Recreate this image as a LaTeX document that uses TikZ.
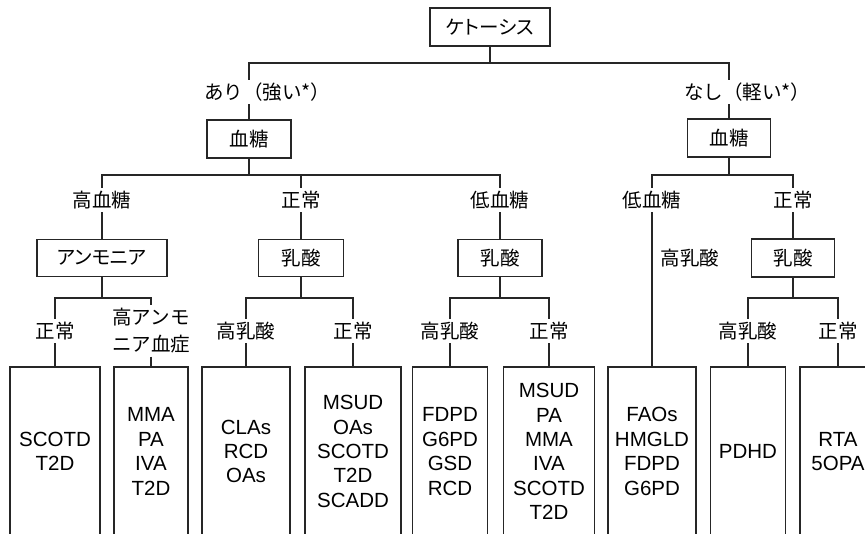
\documentclass[tikz,border=0pt]{standalone}
\usepackage{fontspec}
\setmainfont{Liberation Sans}
\newfontfamily\jpfont{Noto Sans CJK JP}
\newfontfamily\jpboxfont[RawFeature=+palt]{Noto Sans CJK JP}

\begin{document}
\begin{tikzpicture}[x=1pt,y=-1pt]
\tikzset{
  jpbox/.style={draw=black!85,line width=1.3pt,inner sep=0pt,font=\jpboxfont\fontsize{19.5}{23}\selectfont},
  leafbox/.style={draw=black!85,line width=1.3pt,inner sep=0pt,minimum height=169pt,align=center,font=\fontsize{20.5}{24.4}\selectfont},
  cond/.style={inner sep=3pt,align=center,font=\jpfont\fontsize{19.5}{27}\selectfont},
  link/.style={draw=black!85,line width=1.3pt}
}
\useasboundingbox (0,0) rectangle (865,533);
\clip (0,0) rectangle (865,533);
% top
\node[jpbox,minimum width=120pt,minimum height=38pt] (n_root) at (490,27) {ケトーシス};
\node[cond,anchor=west] (n_yes) at (201,92) {あり（強い*）};
\node[cond,anchor=west] (n_no) at (681,92) {なし（軽い*）};
\node[jpbox,minimum width=84pt,minimum height=38pt] (n_bs1) at (249,139) {血糖};
\node[jpbox,minimum width=83pt,minimum height=38pt] (n_bs2) at (729,138) {血糖};
% second level
\node[cond] (n_hyper) at (102,200) {高血糖};
\node[cond] (n_norm1) at (301,200) {正常};
\node[cond] (n_hypo1) at (500,200) {低血糖};
\node[cond] (n_hypo2) at (652,200) {低血糖};
\node[cond] (n_norm2) at (793,200) {正常};
\node[jpbox,minimum width=130pt,minimum height=37pt] (n_amm) at (102,258) {アンモニア};
\node[jpbox,minimum width=85pt,minimum height=37pt] (n_lac1) at (301,258) {乳酸};
\node[jpbox,minimum width=84pt,minimum height=37pt] (n_lac2) at (500,258) {乳酸};
\node[cond] (n_hl0) at (690,258) {高乳酸};
\node[jpbox,minimum width=83pt,minimum height=38pt] (n_lac3) at (793,258) {乳酸};
% third level
\node[cond] (n_nA) at (55,331) {正常};
\node[cond] (n_hA) at (151,331) {高アンモ\\ニア血症};
\node[cond] (n_hl1) at (246,331) {高乳酸};
\node[cond] (n_nl1) at (353,331) {正常};
\node[cond] (n_hl2) at (450,331) {高乳酸};
\node[cond] (n_nl2) at (549,331) {正常};
\node[cond] (n_hl3) at (748,331) {高乳酸};
\node[cond] (n_nl3) at (838,331) {正常};
% leaves
\node[leafbox,minimum width=90pt] (n_d1) at (55,451.5) {SCOTD\\T2D};
\node[leafbox,minimum width=74pt] (n_d2) at (151,451.5) {MMA\\PA\\IVA\\T2D};
\node[leafbox,minimum width=88pt] (n_d3) at (246,451.5) {CLAs\\RCD\\OAs};
\node[leafbox,minimum width=96pt] (n_d4) at (353,451.5) {MSUD\\OAs\\SCOTD\\T2D\\SCADD};
\node[leafbox,minimum width=75pt] (n_d5) at (450,451.5) {FDPD\\G6PD\\GSD\\RCD};
\node[leafbox,minimum width=91pt] (n_d6) at (549,451.5) {MSUD\\PA\\MMA\\IVA\\SCOTD\\T2D};
\node[leafbox,minimum width=88pt] (n_d7) at (652,451.5) {FAOs\\HMGLD\\FDPD\\G6PD};
\node[leafbox,minimum width=75pt] (n_d8) at (748,451.5) {PDHD};
\node[leafbox,minimum width=76pt] (n_d9) at (838,451.5) {RTA\\5OPA};
% junctions
\coordinate (k_root) at (490,63);
\coordinate (k_bs1) at (249,175);
\coordinate (k_bs2) at (729,175);
\coordinate (k_amm) at (102,298);
\coordinate (k_lac1) at (301,298);
\coordinate (k_lac2) at (500,298);
\coordinate (k_lac3) at (793,298);
% connectors
\draw[link] (n_root) -- (k_root);
\draw[link] (k_root) -| (n_bs1 |- n_yes.north);
\draw[link] (k_root) -| (n_bs2 |- n_no.north);
\draw[link] (n_bs1 |- n_yes.south) -- (n_bs1);
\draw[link] (n_bs2 |- n_no.south) -- (n_bs2);
\draw[link] (n_bs1) -- (k_bs1);
\draw[link] (k_bs1) -| (n_hyper);
\draw[link] (k_bs1) -| (n_norm1);
\draw[link] (k_bs1) -| (n_hypo1);
\draw[link] (n_bs2) -- (k_bs2);
\draw[link] (k_bs2) -| (n_hypo2);
\draw[link] (k_bs2) -| (n_norm2);
\draw[link] (n_hyper) -- (n_amm);
\draw[link] (n_norm1) -- (n_lac1);
\draw[link] (n_hypo1) -- (n_lac2);
\draw[link] (n_norm2) -- (n_lac3);
\draw[link] (n_hypo2) -- (n_d7);
\draw[link] (n_amm) -- (k_amm);
\draw[link] (k_amm) -| (n_nA);
\draw[link] (k_amm) -| (n_hA);
\draw[link] (n_lac1) -- (k_lac1);
\draw[link] (k_lac1) -| (n_hl1);
\draw[link] (k_lac1) -| (n_nl1);
\draw[link] (n_lac2) -- (k_lac2);
\draw[link] (k_lac2) -| (n_hl2);
\draw[link] (k_lac2) -| (n_nl2);
\draw[link] (n_lac3) -- (k_lac3);
\draw[link] (k_lac3) -| (n_hl3);
\draw[link] (k_lac3) -| (n_nl3);
\draw[link] (n_nA) -- (n_d1);
\draw[link] (n_hA) -- (n_d2);
\draw[link] (n_hl1) -- (n_d3);
\draw[link] (n_nl1) -- (n_d4);
\draw[link] (n_hl2) -- (n_d5);
\draw[link] (n_nl2) -- (n_d6);
\draw[link] (n_hl3) -- (n_d8);
\draw[link] (n_nl3) -- (n_d9);
\end{tikzpicture}
\end{document}
